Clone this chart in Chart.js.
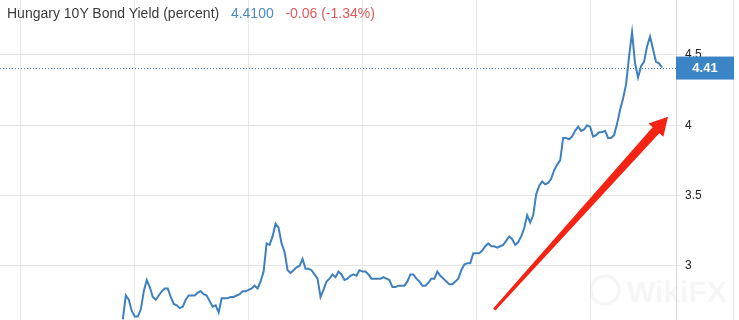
<!DOCTYPE html>
<html>
<head>
<meta charset="utf-8">
<script src="https://cdn.jsdelivr.net/npm/chart.js@4.4.0/dist/chart.umd.min.js"></script>
<style>
body { margin: 0; background: #fff; }
#wrap { position: relative; width: 739px; height: 320px; overflow: hidden; }
#title { position: absolute; left: 7px; top: 5px; font: 14px "Liberation Sans", Arial, sans-serif; line-height: 16px; color: #3c3c3c; white-space: pre; }
#title .last { color: #4a8cc8; }
#title .chg { color: #e25a5a; }
</style>
</head>
<body>
<div id="wrap">
  <canvas id="myChart" width="739" height="320"></canvas>
  <div id="title">Hungary 10Y Bond Yield (percent)   <span class="last">4.4100</span>   <span class="chg">-0.06 (-1.34%)</span></div>
</div>
<script>
// daily yields (first point is day 34 of the visible window)
const firstDay = 34;
const yields = [
  2.62, 2.79, 2.76, 2.68, 2.64, 2.64, 2.69, 2.82, 2.90, 2.85,
  2.78, 2.76, 2.79, 2.82, 2.84, 2.84, 2.78, 2.73, 2.72, 2.70,
  2.71, 2.76, 2.79, 2.79, 2.79, 2.81, 2.82, 2.80, 2.79, 2.75,
  2.71, 2.72, 2.67, 2.77, 2.77, 2.77, 2.78, 2.78, 2.79, 2.80,
  2.82, 2.82, 2.83, 2.84, 2.86, 2.84, 2.89, 2.96, 3.16, 3.15,
  3.21, 3.30, 3.27, 3.16, 3.10, 2.97, 2.95, 2.97, 2.99, 3.00,
  3.05, 2.98, 2.98, 2.97, 2.94, 2.91, 2.78, 2.83, 2.89, 2.91,
  2.94, 2.92, 2.96, 2.94, 2.90, 2.91, 2.93, 2.94, 2.93, 2.97,
  2.96, 2.96, 2.94, 2.91, 2.91, 2.91, 2.91, 2.92, 2.91, 2.90,
  2.85, 2.85, 2.86, 2.86, 2.86, 2.89, 2.94, 2.94, 2.91, 2.89,
  2.86, 2.86, 2.88, 2.91, 2.91, 2.96, 2.93, 2.91, 2.89, 2.87,
  2.87, 2.89, 2.91, 2.97, 3.01, 3.02, 3.02, 3.09, 3.09, 3.09,
  3.11, 3.14, 3.16, 3.14, 3.14, 3.13, 3.14, 3.15, 3.18, 3.21,
  3.19, 3.15, 3.17, 3.21, 3.27, 3.36, 3.31, 3.36, 3.51, 3.57,
  3.60, 3.58, 3.59, 3.62, 3.68, 3.72, 3.75, 3.91, 3.91, 3.90,
  3.92, 3.96, 3.99, 3.96, 3.97, 4.00, 3.99, 3.92, 3.93, 3.95,
  3.95, 3.96, 3.91, 3.91, 3.93, 4.01, 4.11, 4.19, 4.29, 4.49,
  4.66, 4.44, 4.34, 4.42, 4.45, 4.56, 4.63, 4.54, 4.45, 4.44, 4.41
];
const lastValue = 4.41;
const yMin = 2.616, yMax = 4.89;
const xMin = -7, xMax = 218.67;
const xGridStep = 38;
const yGridStep = 0.5;
// the red arrow someone drew over the chart, in data units
const arrowFrom = [158, 2.69];
const arrowTo = [216, 4.06];

const lineBlue = "#3f80be";

const points = yields.map((v, i) => ({ x: firstDay + i, y: v }));

// no room kept for labels above/below the plot: plot runs edge to edge
function noPad(s) {
  s.paddingTop = 0;
  s.paddingBottom = 0;
  s.paddingLeft = 0;
  s.paddingRight = 0;
}

const overlay = {
  id: "overlay",
  beforeDatasetsDraw(chart) {
    const { ctx, chartArea, scales } = chart;
    const y = Math.round(scales.y.getPixelForValue(lastValue)) + 0.5;
    ctx.save();
    ctx.strokeStyle = "#3f80be";
    ctx.lineWidth = 1;
    ctx.setLineDash([1, 2]);
    ctx.beginPath();
    ctx.moveTo(chartArea.left, y);
    ctx.lineTo(chartArea.right, y);
    ctx.stroke();
    ctx.restore();
  },
  afterDraw(chart) {
    const { ctx, chartArea, scales } = chart;
    ctx.save();
    // watermark
    ctx.fillStyle = "rgba(200,200,200,0.16)";
    ctx.font = "bold 30px 'Liberation Sans', Arial, sans-serif";
    ctx.fillText("WikiFX", 627, 302);
    ctx.strokeStyle = "rgba(200,200,200,0.18)";
    ctx.lineWidth = 3;
    ctx.beginPath();
    ctx.arc(605, 290, 14, 0, Math.PI * 2);
    ctx.stroke();

    // right edge of the widget
    ctx.strokeStyle = "#e4e4e4";
    ctx.lineWidth = 1;
    ctx.beginPath();
    ctx.moveTo(733.5, 0);
    ctx.lineTo(733.5, chart.height);
    ctx.stroke();

    // last value box
    const y = scales.y.getPixelForValue(lastValue);
    ctx.fillStyle = "#3b84c6";
    ctx.fillRect(chartArea.right, y - 11, 58, 23);
    ctx.fillStyle = "#fff";
    ctx.font = "bold 13px 'Liberation Sans', Arial, sans-serif";
    ctx.textAlign = "center";
    ctx.textBaseline = "middle";
    ctx.fillText(lastValue.toFixed(2), chartArea.right + 29, y + 1);

    // red arrow
    const x0 = scales.x.getPixelForValue(arrowFrom[0]);
    const y0 = scales.y.getPixelForValue(arrowFrom[1]);
    const x1 = scales.x.getPixelForValue(arrowTo[0]);
    const y1 = scales.y.getPixelForValue(arrowTo[1]);
    const len = Math.hypot(x1 - x0, y1 - y0);
    const ux = (x1 - x0) / len, uy = (y1 - y0) / len;
    const nx = -uy, ny = ux;
    const headLen = 18, headW = 10, tailW = 1.5, neckW = 4.5;
    const bx = x1 - ux * headLen, by = y1 - uy * headLen;
    ctx.fillStyle = "#f42314";
    ctx.beginPath();
    ctx.moveTo(x0 + nx * tailW, y0 + ny * tailW);
    ctx.lineTo(bx + nx * neckW, by + ny * neckW);
    ctx.lineTo(bx + nx * headW, by + ny * headW);
    ctx.lineTo(x1, y1);
    ctx.lineTo(bx - nx * headW, by - ny * headW);
    ctx.lineTo(bx - nx * neckW, by - ny * neckW);
    ctx.lineTo(x0 - nx * tailW, y0 - ny * tailW);
    ctx.closePath();
    ctx.fill();
    ctx.restore();
  }
};

new Chart(document.getElementById("myChart"), {
  type: "line",
  data: {
    datasets: [{
      data: points,
      borderColor: lineBlue,
      borderWidth: 2,
      pointRadius: 0,
      tension: 0,
      fill: false
    }]
  },
  options: {
    responsive: false,
    animation: false,
    layout: { padding: 0 },
    plugins: { legend: { display: false }, tooltip: { enabled: false } },
    scales: {
      x: {
        type: "linear",
        min: xMin,
        max: xMax,
        ticks: { display: false, stepSize: xGridStep, includeBounds: false },
        grid: { color: "#e8e8e8", drawTicks: false },
        border: { display: false },
        afterFit: (s) => { s.height = 0; noPad(s); }
      },
      y: {
        position: "right",
        min: yMin,
        max: yMax,
        ticks: {
          stepSize: yGridStep,
          includeBounds: false,
          color: "#222",
          padding: 4,
          font: { family: "'Liberation Sans', Arial, sans-serif", size: 12 },
          callback: (v) => String(+v.toFixed(1))
        },
        grid: { color: "#e4e4e4", tickLength: 5 },
        border: { color: "#dcdcdc" },
        afterFit: (s) => { s.width = 63; noPad(s); }
      }
    }
  },
  plugins: [overlay]
});
</script>
</body>
</html>
